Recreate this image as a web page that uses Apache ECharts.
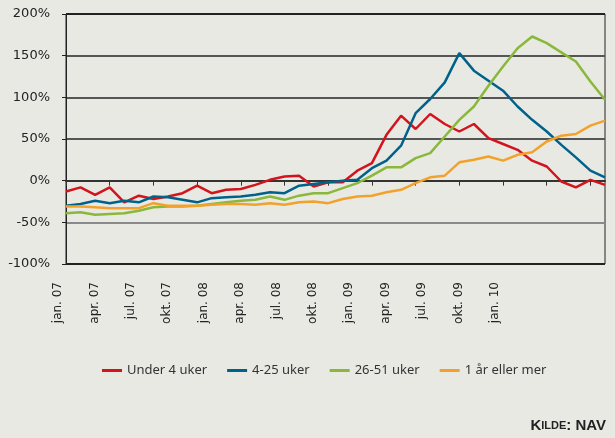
<!DOCTYPE html>
<html>
<head>
<meta charset="utf-8">
<script src="https://cdn.jsdelivr.net/npm/echarts@6/dist/echarts.min.js"></script>
<style>
  html, body { margin: 0; padding: 0; background: #e9e9e4; }
  #chart { width: 615px; height: 438px; }
</style>
</head>
<body>
<div id="chart"></div>
<script>
// months jan. 07 - feb. 10
var months = [
  'jan. 07','feb. 07','mar. 07','apr. 07','mai 07','jun. 07','jul. 07','aug. 07','sep. 07','okt. 07','nov. 07','des. 07',
  'jan. 08','feb. 08','mar. 08','apr. 08','mai 08','jun. 08','jul. 08','aug. 08','sep. 08','okt. 08','nov. 08','des. 08',
  'jan. 09','feb. 09','mar. 09','apr. 09','mai 09','jun. 09','jul. 09','aug. 09','sep. 09','okt. 09','nov. 09','des. 09',
  'jan. 10','feb. 10'
];
var tickLabels = ['jan. 07','apr. 07','jul. 07','okt. 07','jan. 08','apr. 08','jul. 08','okt. 08','jan. 09','apr. 09','jul. 09','okt. 09','jan. 10'];

var under4 = [-13, -8, -17, -8, -26, -18, -22, -19, -15, -6, -15, -11, -10, -5, 1, 5, 6, -7, -2, -2,
  12, 21, 55, 78, 62, 80, 68, 59, 68, 51, 44, 37, 24, 17, -1, -8, 1, -5];
var uker4_25 = [-30, -28, -24, -27, -24, -26, -19, -20, -23, -26, -21, -20, -19, -17, -14, -15, -6, -4, -2, 0,
  1, 15, 24, 42, 81, 98, 118, 153, 132, 120, 108, 89, 73, 59, 43, 28, 12, 4];
var uker26_51 = [-39, -38, -41, -40, -39, -36, -32, -31, -31, -30, -28, -26, -24, -23, -19, -23, -18, -15, -15, -9,
  -3, 6, 16, 16, 27, 33, 53, 73, 89, 114, 137, 159, 173, 165, 154, 143, 119, 97];
var aarEllerMer = [-31, -31, -32, -33, -33, -33, -27, -30, -30, -30, -29, -28, -28, -29, -27, -29, -26, -25, -27, -22,
  -19, -18, -14, -11, -3, 4, 6, 22, 25, 29, 24, 31, 34, 47, 54, 56, 66, 72];

var seriesNames = ['Under 4 uker', '4-25 uker', '26-51 uker', '1 år eller mer'];
var colors = ['#d3141c', '#00628b', '#8ab83a', '#f2a22b'];
var values = [under4, uker4_25, uker26_51, aarEllerMer];

var myChart = echarts.init(document.getElementById('chart'));

var option = {
  backgroundColor: '#e9e9e4',
  color: colors,
  animation: false,
  textStyle: { fontFamily: 'DejaVu Sans' },
  title: {
    text: '{a|K}{b|ILDE}{a|: NAV}',
    right: 9,
    top: 418,
    padding: 0,
    textStyle: {
      rich: {
        a: { fontFamily: 'Liberation Sans', fontSize: 15, color: '#222' },
        b: { fontFamily: 'Liberation Sans', fontSize: 11, color: '#222' }
      }
    }
  },
  legend: {
    left: 102,
    top: 364,
    padding: 0,
    itemGap: 20,
    itemWidth: 20,
    itemHeight: 3,
    icon: 'rect',
    textStyle: { fontFamily: 'Noto Sans', fontSize: 13, color: '#333' },
    data: seriesNames
  },
  grid: [
    { left: 66, right: 10, top: 14, bottom: 174, show: true, borderColor: '#222', borderWidth: 1 },
    { left: 58, right: 120, top: 14, bottom: 174 }
  ],
  xAxis: [
    {
      type: 'category',
      data: months,
      boundaryGap: false,
      axisLine: { onZero: true, lineStyle: { color: '#333', width: 2 } },
      axisTick: {
        length: 5,
        interval: function (i) { return i % 3 === 0; },
        lineStyle: { color: '#333' }
      },
      axisLabel: { show: false },
      splitLine: { show: false }
    },
    {
      gridIndex: 1,
      type: 'category',
      data: tickLabels,
      boundaryGap: false,
      axisLine: { show: false },
      axisTick: { show: false },
      axisLabel: { rotate: 90, margin: 18, fontSize: 12, color: '#222', interval: 0 }
    }
  ],
  yAxis: [
    {
      type: 'value',
      min: -100,
      max: 200,
      interval: 50,
      axisLine: { show: true, lineStyle: { color: '#222' } },
      axisTick: { show: true, length: 4, lineStyle: { color: '#222' } },
      axisLabel: { formatter: '{value}%', fontSize: 13, color: '#222', margin: 16 },
      splitLine: {
        lineStyle: {
          color: ['#222', '#8a8a8a', '#333', '#555', '#555', '#555', '#222'],
          width: 2
        }
      }
    },
    { gridIndex: 1, type: 'value', show: false }
  ],
  series: seriesNames.map(function (name, k) {
    return {
      name: name,
      type: 'line',
      data: values[k],
      showSymbol: false,
      lineStyle: { width: 2.5 }
    };
  })
};
myChart.setOption(option);
</script>
</body>
</html>
